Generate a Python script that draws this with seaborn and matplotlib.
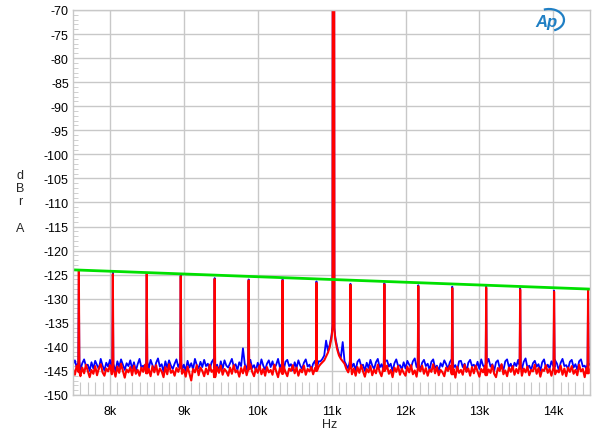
import numpy as np
import pandas as pd
import seaborn as sns
import matplotlib.pyplot as plt
from matplotlib.patches import Arc
from matplotlib.ticker import MultipleLocator

# noise floor bins, 25 Hz apart from 7.5k to 14.5k
bin_hz = np.linspace(7500, 14500, 281)

red_floor = [
    -144.6, -145.8, -143.9, -145.2, -146.1, -144.3, -145.5, -143.7, -145.0, -146.3,
    -144.8, -145.6, -144.0, -145.9, -144.4, -143.6, -145.3, -146.0, -144.5, -145.1,
    -143.8, -145.7, -144.6, -146.2, -144.1, -145.4, -143.5, -145.0, -146.4, -144.7,
    -145.3, -144.2, -145.9, -143.9, -145.6, -144.8, -146.0, -144.3, -145.2, -143.7,
    -145.5, -144.6, -146.1, -144.0, -145.3, -143.8, -145.8, -144.5, -145.1, -146.3,
    -144.2, -145.7, -143.6, -145.4, -144.9, -146.0, -144.4, -145.2, -143.9, -145.6,
    -144.7, -146.2, -144.1, -145.5, -147.0, -144.6, -145.3, -143.8, -145.9, -144.3,
    -145.0, -146.1, -144.5, -145.7, -143.7, -145.2, -144.8, -146.3, -144.2, -145.4,
    -143.9, -145.8, -144.6, -145.1, -146.0, -144.3, -145.6, -143.8, -145.3, -144.9,
    -146.2, -144.4, -145.5, -144.0, -145.9, -144.7, -143.6, -145.2, -146.1, -144.5,
    -145.4, -143.9, -145.7, -144.6, -146.0, -144.2, -145.3, -144.8, -145.8, -143.7,
    -145.1, -146.3, -144.4, -145.6, -144.0, -145.2, -146.1, -144.5, -145.0, -143.8,
    -145.5, -144.3, -146.0, -144.7, -145.3, -143.9, -145.8, -144.6, -145.1, -144.2,
    -145.7, -144.4, -145.0, -144.1, -143.6, -143.2, -142.8, -142.0, -141.2, -140.0,
    -138.0, -139.0, -138.5, -140.5, -141.8, -142.5, -143.0, -143.5, -144.6, -145.3,
    -143.9, -145.7, -144.5, -146.0, -144.2, -145.4, -143.8, -145.1, -146.2, -144.6,
    -145.3, -144.0, -145.9, -144.7, -145.5, -143.7, -145.2, -146.1, -144.4, -145.0,
    -143.9, -145.6, -144.8, -146.3, -144.3, -145.2, -144.0, -145.8, -144.6, -145.4,
    -146.0, -144.1, -145.3, -143.8, -145.7, -144.9, -146.2, -144.5, -145.1, -143.9,
    -145.6, -144.4, -146.0, -144.7, -145.2, -143.6, -145.5, -144.2, -145.9, -144.8,
    -145.3, -146.1, -144.3, -145.0, -143.9, -145.7, -144.6, -146.4, -144.1, -145.4,
    -144.8, -145.8, -143.7, -145.2, -144.5, -146.0, -144.2, -145.5, -143.9, -145.1,
    -146.2, -144.6, -145.3, -144.0, -145.9, -144.7, -145.4, -143.8, -145.6, -146.3,
    -144.4, -145.0, -143.6, -145.7, -144.9, -146.1, -144.3, -145.2, -144.0, -145.8,
    -144.6, -145.5, -143.9, -146.0, -144.5, -145.3, -144.1, -145.9, -144.8, -145.1,
    -143.7, -145.6, -144.4, -146.2, -144.7, -145.0, -143.8, -145.4, -144.6, -146.0,
    -144.2, -145.7, -144.9, -145.3, -143.9, -145.8, -144.5, -146.1, -144.3, -145.2,
    -144.0, -145.6, -144.8, -145.9, -143.7, -145.1, -144.6, -146.3, -144.4, -145.5,
    -144.7,
]

blue_floor = [
    -143.6, -142.8, -144.3, -143.1, -144.8, -143.4, -142.6, -144.0, -143.7, -145.0,
    -143.2, -144.5, -142.9, -143.8, -144.6, -142.5, -143.9, -144.9, -143.3, -144.1,
    -142.7, -144.4, -143.5, -145.1, -143.0, -144.2, -142.6, -143.7, -144.8, -143.4,
    -144.0, -142.8, -144.6, -143.2, -145.0, -143.6, -142.5, -144.3, -143.9, -144.7,
    -143.1, -144.5, -142.7, -143.8, -144.9, -143.3, -142.4, -144.1, -143.6, -145.2,
    -143.0, -144.4, -142.8, -143.9, -144.6, -143.5, -142.6, -144.2, -143.3, -144.8,
    -143.7, -145.0, -142.9, -144.3, -143.4, -144.7, -142.5, -143.8, -144.5, -143.1,
    -144.2, -142.7, -144.0, -143.5, -144.9, -143.2, -142.6, -144.4, -143.7, -145.1,
    -143.0, -144.6, -142.8, -143.9, -144.3, -143.4, -142.5, -144.1, -143.6, -144.8,
    -143.2, -144.0, -140.3, -143.6, -144.7, -143.1, -142.7, -144.4, -143.8, -145.0,
    -143.3, -144.5, -142.6, -143.9, -144.8, -143.5, -142.8, -144.2, -143.0, -144.6,
    -143.7, -142.5, -144.3, -143.4, -145.0, -143.1, -142.7, -144.0, -143.6, -144.9,
    -143.2, -144.4, -142.8, -143.9, -144.6, -143.3, -142.6, -144.1, -143.7, -144.8,
    -143.5, -142.9, -144.2, -143.0, -143.0, -142.5, -141.8, -138.7, -140.8, -139.5,
    -137.5, -138.5, -138.0, -140.0, -141.5, -142.2, -139.0, -143.0, -143.8, -144.5,
    -142.9, -144.2, -143.5, -144.9, -143.1, -142.6, -144.0, -143.7, -145.0, -143.3,
    -144.4, -142.7, -143.9, -144.6, -143.2, -142.5, -144.3, -143.6, -144.8, -143.0,
    -142.8, -144.1, -143.5, -145.1, -143.4, -142.6, -144.0, -143.8, -144.7, -143.2,
    -144.5, -142.9, -143.7, -144.3, -143.0, -142.4, -144.2, -143.6, -144.9, -143.3,
    -142.7, -144.0, -143.5, -144.8, -143.1, -142.6, -144.4, -143.9, -145.0, -143.4,
    -144.1, -142.8, -143.6, -144.6, -143.2, -142.5, -144.3, -143.8, -144.9, -143.0,
    -142.9, -144.2, -143.5, -145.1, -143.3, -142.7, -144.0, -143.7, -144.5, -143.1,
    -144.6, -142.6, -143.9, -144.3, -143.4, -142.5, -144.1, -143.6, -145.0, -143.2,
    -142.8, -144.4, -143.7, -144.9, -143.0, -142.6, -144.2, -143.5, -144.7, -143.3,
    -144.0, -142.7, -143.8, -144.6, -143.1, -142.4, -144.3, -143.9, -144.8, -143.4,
    -142.9, -144.1, -143.6, -145.0, -143.2, -142.6, -144.4, -143.7, -144.5, -143.0,
    -144.2, -142.8, -143.5, -144.9, -143.3, -142.5, -144.0, -143.8, -144.6, -143.1,
    -142.7, -144.3, -143.6, -144.8, -143.0, -142.6, -144.1, -143.9, -144.7, -143.4,
    -143.8,
]

# jitter sidebands either side of the 11.025 kHz tone
spike_hz = [7579, 8039, 8498, 8958, 9417, 9877, 10336, 10795,
            11255, 11714, 12173, 12633, 13092, 13552, 14011, 14471]
red_spike_db = [-124.2, -124.9, -124.9, -125.3, -125.9, -126.2, -126.2, -126.7,
                -127.1, -127.0, -127.4, -127.8, -127.7, -128.1, -128.5, -128.2]
blue_spike_db = [-124.0, -124.6, -124.7, -125.0, -125.7, -126.0, -126.0, -126.4,
                 -126.9, -126.8, -127.2, -127.5, -127.5, -127.8, -128.3, -128.0]

# the main tone (runs off the top of the graph)
tone_center = 11025
tone_hz = [11012, 11017, 11033, 11038]
red_tone_db = [-136.0, -20.0, -20.0, -136.5]
blue_tone_db = [-135.5, -20.0, -20.0, -136.0]

# limit line
limit_hz = [7500, 14500]
limit_db = [-124.0, -128.0]

xticks = [8000, 9000, 10000, 11000, 12000, 13000, 14000]
xlabels = ["8k", "9k", "10k", "11k", "12k", "13k", "14k"]


def build_trace(floor, spikes, tone, name):
    gaps = spike_hz + [tone_center]
    keep = [i for i, f in enumerate(bin_hz) if min(abs(f - s) for s in gaps) > 12]
    hz = [bin_hz[i] for i in keep]
    db = [floor[i] for i in keep]
    for f, p in zip(spike_hz, spikes):
        foot = floor[int(np.argmin(np.abs(bin_hz - f)))]
        hz += [f - 7, f, f + 7]
        db += [foot, p, foot]
    hz += tone_hz
    db += tone
    out = pd.DataFrame({"Hz": hz, "dB": db}).sort_values("Hz")
    out["trace"] = name
    return out


blue_df = build_trace(blue_floor, blue_spike_db, blue_tone_db, "blue")
red_df = build_trace(red_floor, red_spike_db, red_tone_db, "red")

sns.set_theme(style="white")
plt.rcParams["font.family"] = ["Liberation Sans", "DejaVu Sans"]
plt.rcParams["axes.unicode_minus"] = False

fig = plt.figure(figsize=(6, 4.39), dpi=100)
ax = fig.add_axes([0.1217, 0.098, 0.862, 0.877])

grid_c = "#c8c8c8"
sns.lineplot(data=blue_df, x="Hz", y="dB", color="#0000ff", lw=1.3,
             estimator=None, sort=False, ax=ax)
sns.lineplot(data=red_df, x="Hz", y="dB", color="#ff0000", lw=1.5,
             estimator=None, sort=False, ax=ax)
sns.lineplot(x=limit_hz, y=limit_db, color="#00e000", lw=2.0, ax=ax)

ax.set_xlim(7500, 14500)
ax.set_ylim(-150, -70)
ax.set_xticks(xticks)
ax.set_xticklabels(xlabels)
ax.set_yticks(np.arange(-150, -69, 5))
ax.xaxis.set_minor_locator(MultipleLocator(100))
ax.yaxis.set_minor_locator(MultipleLocator(1))
ax.grid(True, which="major", color=grid_c, lw=1.0)
ax.set_axisbelow(True)
ax.tick_params(which="major", length=0, labelsize=9, colors="black")
ax.tick_params(axis="x", which="major", pad=7)
ax.tick_params(axis="y", which="major", pad=3)
ax.tick_params(axis="x", which="minor", direction="in", length=9.5,
               width=0.8, color=grid_c, bottom=True)
ax.tick_params(axis="y", which="minor", direction="in", length=3.5,
               width=0.6, color=grid_c, left=True)
for sp in ax.spines.values():
    sp.set_color(grid_c)
    sp.set_linewidth(1.0)
ax.set_xlabel("")
ax.set_ylabel("")

fig.text(0.55, 1 - 425 / 439, "Hz", ha="center", va="center", fontsize=9)
fig.text(20 / 600, 1 - 202.5 / 439, "d\nB\nr\n\nA", ha="center", va="center",
         fontsize=9, linespacing=1.15)

# Ap logo
fig.text(546 / 600, 1 - 22 / 439, "Ap", ha="center", va="center", fontsize=12,
         fontweight="bold", fontstyle="italic", color="#1f7fc4")
fig.patches.append(Arc((549 / 600, 1 - 21 / 439), 30 / 600, 22 / 439,
                       theta1=-70, theta2=110, color="#1f7fc4", lw=1.6,
                       transform=fig.transFigure))

fig.savefig("out.png", dpi=100)
